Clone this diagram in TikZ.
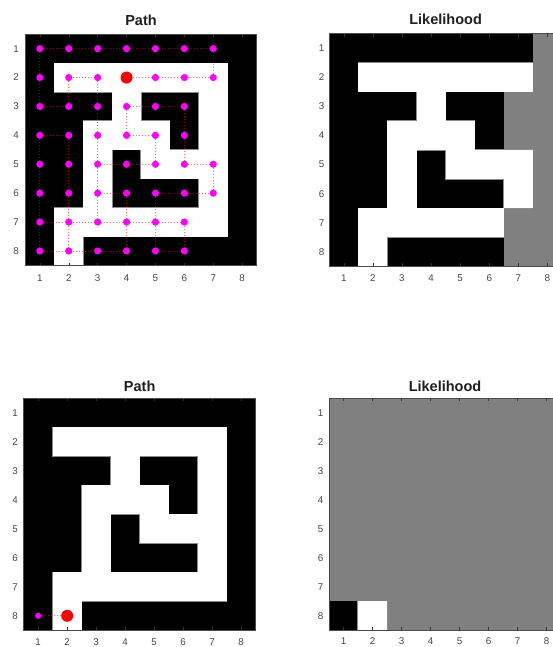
\documentclass[tikz,border=0pt]{standalone}
\usepackage{fontspec}
\setmainfont{Liberation Sans}
\definecolor{mymag}{RGB}{255,0,255}
\definecolor{myred}{RGB}{255,0,0}
\tikzset{
  mdot/.style={circle, fill=mymag, inner sep=0pt, minimum size=7.2pt},
  rdot/.style={circle, fill=myred, inner sep=0pt, minimum size=12pt},
  pline/.style={myred, draw opacity=0.6, line width=0.75pt, dash pattern=on 1pt off 2pt},
  ticklab/.style={font=\fontsize{9.8}{10}\selectfont, text=black!72, inner sep=0pt},
  ttl/.style={font=\bfseries\fontsize{14.5}{15}\selectfont, text=black!88, inner sep=0pt, anchor=base},
  frame/.style={draw=black!70, line width=0.5pt},
  tick/.style={draw=black!80, line width=0.5pt},
}
\newcommand\mywhitecells[1]{%
  \foreach \cc/\rr in {#1} {\fill[black!45] (\cc-1.02,\rr-1.02) rectangle (\cc+0.02,\rr+0.02);}
  \foreach \cc/\rr in {#1} {\fill[white] (\cc-1,\rr-1) rectangle (\cc,\rr);}}
\newcommand\myaxes[3]{% prefix, x-label offset, y-label offset
  \foreach \cc in {1,...,8} {
    \draw[tick] (\cc-0.5,0) -- ++(0,0.1);
    \draw[tick] (\cc-0.5,8) -- ++(0,-0.1);
    \node[ticklab] (#1x\cc) at (\cc-0.5,8) [yshift=-#2] {\cc};
    \node[ticklab] (#1y\cc) at (0,\cc-0.5) [xshift=-#3] {\cc};
  }
  \draw[frame] (0,0) rectangle (8,8);
}
\begin{document}
\begin{tikzpicture}[x=1pt,y=-1pt]
\useasboundingbox (0,0) rectangle (553,647);
\clip (0,0) rectangle (553,647);
\fill[white] (0,0) rectangle (553,647);

% ---------- top left: Path ----------
\begin{scope}[xshift=25.4pt,yshift=-34.2pt,x=28.9pt,y=-28.9pt]
  \fill[black] (0,0) rectangle (8,8);
  \mywhitecells{2/2,3/2,4/2,5/2,6/2,7/2,4/3,7/3,3/4,4/4,5/4,7/4,3/5,5/5,6/5,7/5,3/6,7/6,2/7,3/7,4/7,5/7,6/7,7/7,2/8}
  \myaxes{tl}{12.9pt}{9.4pt}
  \node[ttl] (tltitle) at (4,0) [yshift=8.2pt] {Path};
  \foreach \cc/\rr in {1/1,2/1,3/1,4/1,5/1,6/1,7/1,
                       1/2,2/2,3/2,5/2,6/2,7/2,
                       1/3,2/3,3/3,4/3,5/3,6/3,
                       1/4,2/4,3/4,4/4,5/4,6/4,
                       1/5,2/5,3/5,4/5,5/5,6/5,7/5,
                       1/6,2/6,3/6,4/6,5/6,6/6,7/6,
                       1/7,2/7,3/7,4/7,5/7,6/7,
                       1/8,2/8,3/8,4/8,5/8,6/8}
    {\node[mdot] (p\cc\rr) at (\cc-0.5,\rr-0.5) {};}
  \node[rdot] (p42) at (3.5,1.5) {};
  \foreach \a/\b in {11/21,21/31,31/41,41/51,51/61,61/71,71/72,72/62,62/52,52/42,
                     11/12,12/13,13/23,22/32,22/23,
                     32/33,33/34,34/35,35/36,36/37,
                     43/44,43/53,53/63,63/64,64/65,65/75,75/76,76/66,66/56,56/57,
                     44/54,54/55,55/45,45/35,
                     36/46,46/47,
                     14/24,14/15,15/16,16/17,17/18,
                     24/25,25/26,26/27,27/28,
                     17/27,27/37,37/47,47/57,57/67,
                     18/28,28/38,38/48,47/48,57/58,58/68,67/68}
    {\draw[pline] (p\a) -- (p\b);}
\end{scope}

% ---------- top right: Likelihood ----------
\begin{scope}[xshift=329.2pt,yshift=-33.6pt,x=29.1pt,y=-29.1pt]
  \fill[black] (0,0) rectangle (8,8);
  \foreach \cc/\rr in {8/1,8/2,8/3,8/4,8/5,8/6,8/7,8/8,7/3,7/4,7/7,7/8}
    {\fill[black!50] (\cc-1,\rr-1) rectangle (\cc,\rr);}
  \mywhitecells{2/2,3/2,4/2,5/2,6/2,7/2,4/3,3/4,4/4,5/4,3/5,5/5,6/5,7/5,3/6,7/6,2/7,3/7,4/7,5/7,6/7,2/8}
  \myaxes{tr}{12pt}{7.5pt}
  \node[ttl] (trtitle) at (4,0) [yshift=8.6pt] {Likelihood};
\end{scope}

% ---------- bottom left: Path ----------
\begin{scope}[xshift=23.7pt,yshift=-398.3pt,x=29pt,y=-29pt]
  \fill[black] (0,0) rectangle (8,8);
  \mywhitecells{2/2,3/2,4/2,5/2,6/2,7/2,4/3,7/3,3/4,4/4,5/4,7/4,3/5,5/5,6/5,7/5,3/6,7/6,2/7,3/7,4/7,5/7,6/7,7/7,2/8}
  \myaxes{bl}{11.7pt}{8.7pt}
  \node[ttl] (bltitle) at (4,0) [yshift=7.3pt] {Path};
  \node[mdot, minimum size=6.2pt] (q18) at (0.5,7.5) {};
  \node[rdot] (q28) at (1.5,7.5) {};
  \draw[pline] (q18) -- (q28);
\end{scope}

% ---------- bottom right: Likelihood ----------
\begin{scope}[xshift=329pt,yshift=-398.3pt,x=29pt,y=-29pt]
  \fill[black!50] (0,0) rectangle (8,8);
  \fill[black] (0,7) rectangle (1,8);
  \mywhitecells{2/8}
  \myaxes{br}{10.7pt}{8.3pt}
  \node[ttl] (brtitle) at (4,0) [yshift=7.3pt] {Likelihood};
\end{scope}
\end{tikzpicture}
\end{document}
